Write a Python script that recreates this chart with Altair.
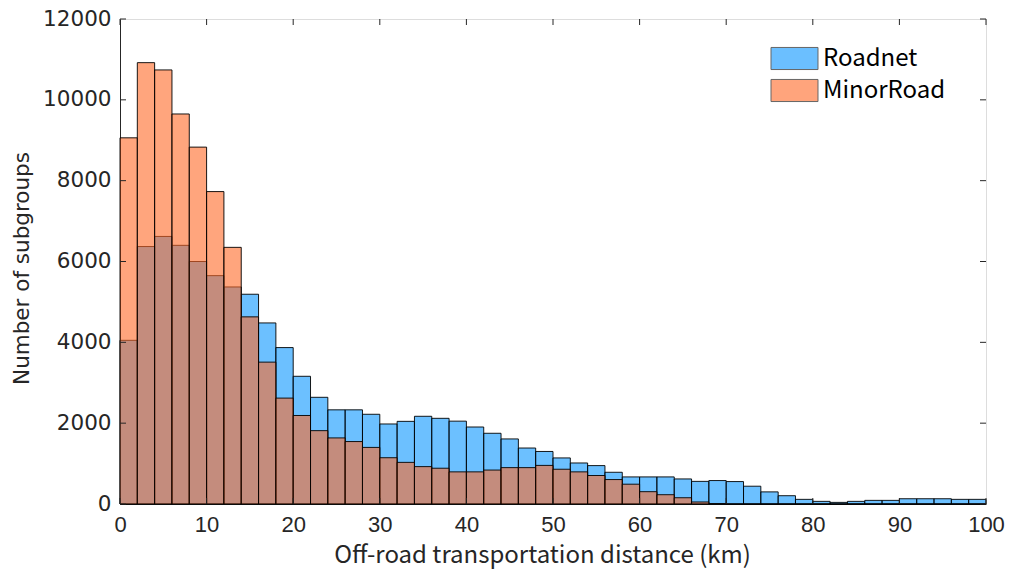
import altair as alt
import pandas as pd

# Bin left edges (km), bin width 2 km
bin_left = list(range(0, 100, 2))
bin_width = 2

roadnet = [4050, 6370, 6620, 6400, 6000, 5650, 5370, 5190, 4480, 3870,
           3160, 2640, 2330, 2330, 2220, 1980, 2045, 2170, 2120, 2050,
           1905, 1750, 1610, 1385, 1300, 1140, 1015, 950, 785, 670,
           670, 670, 620, 560, 580, 555, 440, 300, 205, 115,
           65, 40, 65, 90, 90, 130, 130, 130, 115, 115]

minorroad = [9060, 10920, 10740, 9650, 8830, 7730, 6350, 4630, 3510, 2620,
             2190, 1815, 1635, 1545, 1400, 1145, 1030, 925, 885, 795,
             795, 840, 900, 900, 955, 860, 795, 705, 605, 490,
             305, 230, 155, 50, 10, 0, 0, 0, 0, 0,
             0, 0, 0, 0, 0, 0, 0, 0, 0, 0]

series_names = ["Roadnet", "MinorRoad"]
series_colors = ["#0A96FF", "#FF6926"]

x_ticks = list(range(0, 101, 10))
y_ticks = list(range(0, 12001, 2000))

x_title = "Off-road transportation distance (km)"
y_title = "Number of subgroups"

W, H = 866, 485
AX = "#262626"

rows = []
for name, vals in zip(series_names, [roadnet, minorroad]):
    for b, v in zip(bin_left, vals):
        rows.append({"series": name, "x0": b, "x1": b + bin_width, "count": v})
df = pd.DataFrame(rows)

xscale = alt.Scale(domain=[0, 100], nice=False, zero=False)
yscale = alt.Scale(domain=[0, 12000], nice=False)
cscale = alt.Scale(domain=series_names, range=series_colors)

xaxis = alt.Axis(values=x_ticks, title=x_title, format="d")
yaxis = alt.Axis(values=y_ticks, title=y_title, format="d")

legend = alt.Legend(
    title=None, orient="none", legendX=662, legendY=27,
    symbolType="M-2,-0.94L2,-0.94L2,0.94L-2,0.94Z", symbolSize=552,
    symbolStrokeColor="black", symbolStrokeWidth=1, symbolOpacity=0.6,
    labelFont="Noto Sans CJK JP", labelFontSize=24, labelColor="black",
    labelOffset=16, rowPadding=5, padding=0,
)

def bars(name):
    return (alt.Chart(df).transform_filter(alt.datum.series == name)
            .mark_bar(fillOpacity=0.6, stroke="black", strokeWidth=1, strokeOpacity=0.9)
            .encode(
                x=alt.X("x0:Q", scale=xscale, axis=xaxis),
                x2="x1:Q",
                y=alt.Y("count:Q", scale=yscale, axis=yaxis),
                y2=alt.datum(0),
                color=alt.Color("series:N", scale=cscale, legend=legend),
            ))

xt = pd.DataFrame({"v": x_ticks})
yt = pd.DataFrame({"v": y_ticks})

def xtick(y0, y1):
    return alt.Chart(xt).mark_rule(color=AX, strokeWidth=1).encode(
        x=alt.X("v:Q", scale=xscale, axis=xaxis), y=alt.value(y0), y2=alt.value(y1))

def ytick(x0, x1):
    return alt.Chart(yt).mark_rule(color=AX, strokeWidth=1).encode(
        y=alt.Y("v:Q", scale=yscale, axis=yaxis), x=alt.value(x0), x2=alt.value(x1))

chart = alt.layer(
    bars("Roadnet"), bars("MinorRoad"),
    xtick(H, H - 6), xtick(0, 6), ytick(0, 6), ytick(W, W - 6),
).properties(
    width=W, height=H,
    autosize=alt.AutoSizeParams(type="none"),
    padding={"left": 112, "top": 11, "right": 20, "bottom": 67},
).configure_view(stroke=AX, strokeWidth=1).configure(background="white"
).configure_axis(
    grid=False, tickSize=0, domainColor=AX, labelColor=AX, titleColor=AX,
    titleFontWeight="normal", labelFlush=False, labelOverlap=False,
).configure_axisX(
    labelPadding=10, titlePadding=8, labelFont="Liberation Sans", labelFontSize=22,
    titleFont="Noto Sans CJK JP", titleFontSize=24, titleX=422,
).configure_axisY(
    labelPadding=9, titlePadding=9, labelFont="DejaVu Sans", labelFontSize=21.5,
    titleFont="DejaVu Sans", titleFontSize=21.5, titleY=249,
)

chart.save("out.html", embed_options={"renderer": "svg", "actions": False})
